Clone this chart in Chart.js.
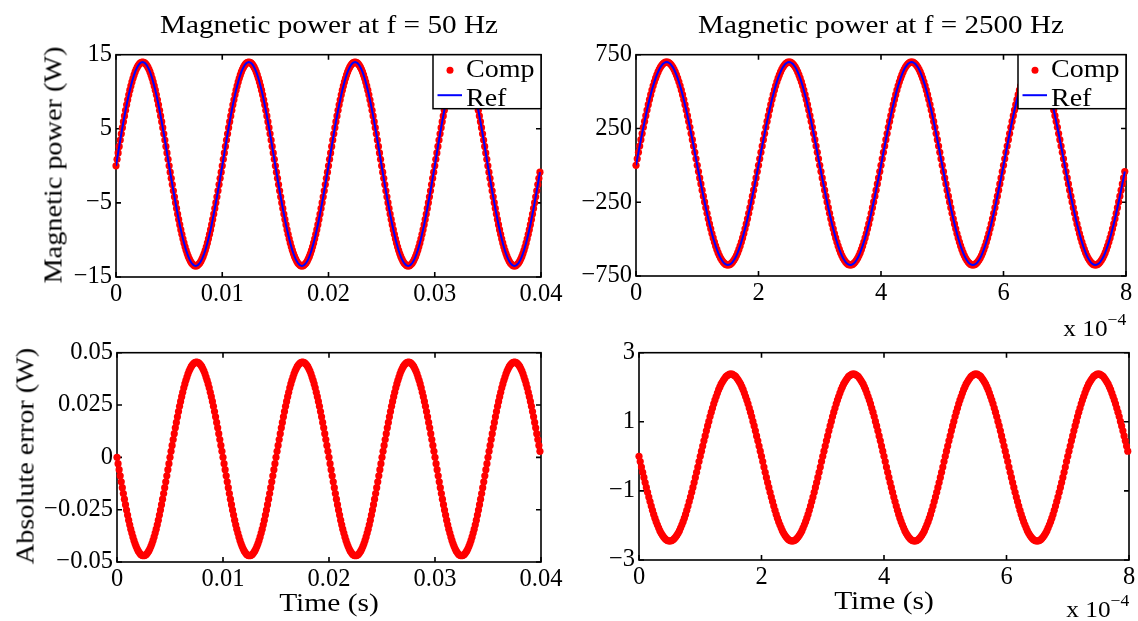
<!DOCTYPE html>
<html><head><meta charset="utf-8">
<script src="https://cdn.jsdelivr.net/npm/chart.js@4.4.1/dist/chart.umd.min.js"></script>
<style>
html,body{margin:0;padding:0;background:#fff;}
body{width:1138px;height:621px;position:relative;overflow:hidden;font-family:"Liberation Serif","Times New Roman",serif;color:#000;}
canvas{position:absolute;}
.t{position:absolute;white-space:nowrap;line-height:1;transform-origin:center center;}
.e{position:absolute;white-space:nowrap;line-height:1;transform-origin:right center;}
.sup{position:relative;font-size:16px;top:-11px;}
</style></head><body>
<canvas id="c1"></canvas><canvas id="c2"></canvas><canvas id="c3"></canvas><canvas id="c4"></canvas>
<div class="t" id="title1">Magnetic power at f = 50 Hz</div>
<div class="t" id="title2">Magnetic power at f = 2500 Hz</div>
<div class="t" id="ylab1">Magnetic power (W)</div>
<div class="t" id="ylab2">Absolute error (W)</div>
<div class="t" id="xlab1">Time (s)</div>
<div class="t" id="xlab2">Time (s)</div>
<div class="e" id="exp1">x 10<span class="sup">−4</span></div>
<div class="e" id="exp2">x 10<span class="sup">−4</span></div>
<script>
// ---------- data ----------
const timeLeft = [
0.0000,0.0001,0.0002,0.0003,0.0004,0.0005,0.0006,0.0007,0.0008,0.0009,0.0010,0.0011,0.0012,0.0013,0.0014,0.0015,0.0016,0.0017,0.0018,0.0019,0.0020,0.0021,0.0022,0.0023,0.0024,0.0025,0.0026,0.0027,0.0028,0.0029,0.0030,0.0031,0.0032,0.0033,0.0034,0.0035,0.0036,0.0037,0.0038,0.0039,0.0040,0.0041,0.0042,0.0043,0.0044,0.0045,0.0046,0.0047,0.0048,0.0049,
0.0050,0.0051,0.0052,0.0053,0.0054,0.0055,0.0056,0.0057,0.0058,0.0059,0.0060,0.0061,0.0062,0.0063,0.0064,0.0065,0.0066,0.0067,0.0068,0.0069,0.0070,0.0071,0.0072,0.0073,0.0074,0.0075,0.0076,0.0077,0.0078,0.0079,0.0080,0.0081,0.0082,0.0083,0.0084,0.0085,0.0086,0.0087,0.0088,0.0089,0.0090,0.0091,0.0092,0.0093,0.0094,0.0095,0.0096,0.0097,0.0098,0.0099,
0.0100,0.0101,0.0102,0.0103,0.0104,0.0105,0.0106,0.0107,0.0108,0.0109,0.0110,0.0111,0.0112,0.0113,0.0114,0.0115,0.0116,0.0117,0.0118,0.0119,0.0120,0.0121,0.0122,0.0123,0.0124,0.0125,0.0126,0.0127,0.0128,0.0129,0.0130,0.0131,0.0132,0.0133,0.0134,0.0135,0.0136,0.0137,0.0138,0.0139,0.0140,0.0141,0.0142,0.0143,0.0144,0.0145,0.0146,0.0147,0.0148,0.0149,
0.0150,0.0151,0.0152,0.0153,0.0154,0.0155,0.0156,0.0157,0.0158,0.0159,0.0160,0.0161,0.0162,0.0163,0.0164,0.0165,0.0166,0.0167,0.0168,0.0169,0.0170,0.0171,0.0172,0.0173,0.0174,0.0175,0.0176,0.0177,0.0178,0.0179,0.0180,0.0181,0.0182,0.0183,0.0184,0.0185,0.0186,0.0187,0.0188,0.0189,0.0190,0.0191,0.0192,0.0193,0.0194,0.0195,0.0196,0.0197,0.0198,0.0199,
0.0200,0.0201,0.0202,0.0203,0.0204,0.0205,0.0206,0.0207,0.0208,0.0209,0.0210,0.0211,0.0212,0.0213,0.0214,0.0215,0.0216,0.0217,0.0218,0.0219,0.0220,0.0221,0.0222,0.0223,0.0224,0.0225,0.0226,0.0227,0.0228,0.0229,0.0230,0.0231,0.0232,0.0233,0.0234,0.0235,0.0236,0.0237,0.0238,0.0239,0.0240,0.0241,0.0242,0.0243,0.0244,0.0245,0.0246,0.0247,0.0248,0.0249,
0.0250,0.0251,0.0252,0.0253,0.0254,0.0255,0.0256,0.0257,0.0258,0.0259,0.0260,0.0261,0.0262,0.0263,0.0264,0.0265,0.0266,0.0267,0.0268,0.0269,0.0270,0.0271,0.0272,0.0273,0.0274,0.0275,0.0276,0.0277,0.0278,0.0279,0.0280,0.0281,0.0282,0.0283,0.0284,0.0285,0.0286,0.0287,0.0288,0.0289,0.0290,0.0291,0.0292,0.0293,0.0294,0.0295,0.0296,0.0297,0.0298,0.0299,
0.0300,0.0301,0.0302,0.0303,0.0304,0.0305,0.0306,0.0307,0.0308,0.0309,0.0310,0.0311,0.0312,0.0313,0.0314,0.0315,0.0316,0.0317,0.0318,0.0319,0.0320,0.0321,0.0322,0.0323,0.0324,0.0325,0.0326,0.0327,0.0328,0.0329,0.0330,0.0331,0.0332,0.0333,0.0334,0.0335,0.0336,0.0337,0.0338,0.0339,0.0340,0.0341,0.0342,0.0343,0.0344,0.0345,0.0346,0.0347,0.0348,0.0349,
0.0350,0.0351,0.0352,0.0353,0.0354,0.0355,0.0356,0.0357,0.0358,0.0359,0.0360,0.0361,0.0362,0.0363,0.0364,0.0365,0.0366,0.0367,0.0368,0.0369,0.0370,0.0371,0.0372,0.0373,0.0374,0.0375,0.0376,0.0377,0.0378,0.0379,0.0380,0.0381,0.0382,0.0383,0.0384,0.0385,0.0386,0.0387,0.0388,0.0389,0.0390,0.0391,0.0392,0.0393,0.0394,0.0395,0.0396,0.0397,0.0398,0.0399
];
// time in units of 1e-4 s
const timeRight = [
0.00,0.02,0.04,0.06,0.08,0.10,0.12,0.14,0.16,0.18,0.20,0.22,0.24,0.26,0.28,0.30,0.32,0.34,0.36,0.38,0.40,0.42,0.44,0.46,0.48,0.50,0.52,0.54,0.56,0.58,0.60,0.62,0.64,0.66,0.68,0.70,0.72,0.74,0.76,0.78,0.80,0.82,0.84,0.86,0.88,0.90,0.92,0.94,0.96,0.98,
1.00,1.02,1.04,1.06,1.08,1.10,1.12,1.14,1.16,1.18,1.20,1.22,1.24,1.26,1.28,1.30,1.32,1.34,1.36,1.38,1.40,1.42,1.44,1.46,1.48,1.50,1.52,1.54,1.56,1.58,1.60,1.62,1.64,1.66,1.68,1.70,1.72,1.74,1.76,1.78,1.80,1.82,1.84,1.86,1.88,1.90,1.92,1.94,1.96,1.98,
2.00,2.02,2.04,2.06,2.08,2.10,2.12,2.14,2.16,2.18,2.20,2.22,2.24,2.26,2.28,2.30,2.32,2.34,2.36,2.38,2.40,2.42,2.44,2.46,2.48,2.50,2.52,2.54,2.56,2.58,2.60,2.62,2.64,2.66,2.68,2.70,2.72,2.74,2.76,2.78,2.80,2.82,2.84,2.86,2.88,2.90,2.92,2.94,2.96,2.98,
3.00,3.02,3.04,3.06,3.08,3.10,3.12,3.14,3.16,3.18,3.20,3.22,3.24,3.26,3.28,3.30,3.32,3.34,3.36,3.38,3.40,3.42,3.44,3.46,3.48,3.50,3.52,3.54,3.56,3.58,3.60,3.62,3.64,3.66,3.68,3.70,3.72,3.74,3.76,3.78,3.80,3.82,3.84,3.86,3.88,3.90,3.92,3.94,3.96,3.98,
4.00,4.02,4.04,4.06,4.08,4.10,4.12,4.14,4.16,4.18,4.20,4.22,4.24,4.26,4.28,4.30,4.32,4.34,4.36,4.38,4.40,4.42,4.44,4.46,4.48,4.50,4.52,4.54,4.56,4.58,4.60,4.62,4.64,4.66,4.68,4.70,4.72,4.74,4.76,4.78,4.80,4.82,4.84,4.86,4.88,4.90,4.92,4.94,4.96,4.98,
5.00,5.02,5.04,5.06,5.08,5.10,5.12,5.14,5.16,5.18,5.20,5.22,5.24,5.26,5.28,5.30,5.32,5.34,5.36,5.38,5.40,5.42,5.44,5.46,5.48,5.50,5.52,5.54,5.56,5.58,5.60,5.62,5.64,5.66,5.68,5.70,5.72,5.74,5.76,5.78,5.80,5.82,5.84,5.86,5.88,5.90,5.92,5.94,5.96,5.98,
6.00,6.02,6.04,6.06,6.08,6.10,6.12,6.14,6.16,6.18,6.20,6.22,6.24,6.26,6.28,6.30,6.32,6.34,6.36,6.38,6.40,6.42,6.44,6.46,6.48,6.50,6.52,6.54,6.56,6.58,6.60,6.62,6.64,6.66,6.68,6.70,6.72,6.74,6.76,6.78,6.80,6.82,6.84,6.86,6.88,6.90,6.92,6.94,6.96,6.98,
7.00,7.02,7.04,7.06,7.08,7.10,7.12,7.14,7.16,7.18,7.20,7.22,7.24,7.26,7.28,7.30,7.32,7.34,7.36,7.38,7.40,7.42,7.44,7.46,7.48,7.50,7.52,7.54,7.56,7.58,7.60,7.62,7.64,7.66,7.68,7.70,7.72,7.74,7.76,7.78,7.80,7.82,7.84,7.86,7.88,7.90,7.92,7.94,7.96,7.98
];

// magnetic power at 50 Hz (W)
const comp50 = [
0,0.88,1.75,2.62,3.48,4.33,5.15,5.96,6.74,7.50,8.23,8.92,9.58,10.21,10.79,11.33,11.82,12.27,12.67,13.02,13.31,13.56,13.75,13.89,13.97,14.00,13.97,13.89,13.75,13.56,13.31,13.02,12.67,12.27,11.82,11.33,10.79,10.21,9.58,8.92,8.23,7.50,6.74,5.96,5.15,4.33,3.48,2.62,1.75,0.88,
0,-0.85,-1.69,-2.53,-3.36,-4.17,-4.97,-5.75,-6.50,-7.23,-7.94,-8.61,-9.24,-9.84,-10.40,-10.92,-11.40,-11.83,-12.22,-12.55,-12.84,-13.08,-13.26,-13.39,-13.47,-13.50,-13.47,-13.39,-13.26,-13.08,-12.84,-12.55,-12.22,-11.83,-11.40,-10.92,-10.40,-9.84,-9.24,-8.61,-7.94,-7.23,-6.50,-5.75,-4.97,-4.17,-3.36,-2.53,-1.69,-0.85,
0,0.88,1.75,2.62,3.48,4.33,5.15,5.96,6.74,7.50,8.23,8.92,9.58,10.21,10.79,11.33,11.82,12.27,12.67,13.02,13.31,13.56,13.75,13.89,13.97,14.00,13.97,13.89,13.75,13.56,13.31,13.02,12.67,12.27,11.82,11.33,10.79,10.21,9.58,8.92,8.23,7.50,6.74,5.96,5.15,4.33,3.48,2.62,1.75,0.88,
0,-0.85,-1.69,-2.53,-3.36,-4.17,-4.97,-5.75,-6.50,-7.23,-7.94,-8.61,-9.24,-9.84,-10.40,-10.92,-11.40,-11.83,-12.22,-12.55,-12.84,-13.08,-13.26,-13.39,-13.47,-13.50,-13.47,-13.39,-13.26,-13.08,-12.84,-12.55,-12.22,-11.83,-11.40,-10.92,-10.40,-9.84,-9.24,-8.61,-7.94,-7.23,-6.50,-5.75,-4.97,-4.17,-3.36,-2.53,-1.69,-0.85,
0,0.88,1.75,2.62,3.48,4.33,5.15,5.96,6.74,7.50,8.23,8.92,9.58,10.21,10.79,11.33,11.82,12.27,12.67,13.02,13.31,13.56,13.75,13.89,13.97,14.00,13.97,13.89,13.75,13.56,13.31,13.02,12.67,12.27,11.82,11.33,10.79,10.21,9.58,8.92,8.23,7.50,6.74,5.96,5.15,4.33,3.48,2.62,1.75,0.88,
0,-0.85,-1.69,-2.53,-3.36,-4.17,-4.97,-5.75,-6.50,-7.23,-7.94,-8.61,-9.24,-9.84,-10.40,-10.92,-11.40,-11.83,-12.22,-12.55,-12.84,-13.08,-13.26,-13.39,-13.47,-13.50,-13.47,-13.39,-13.26,-13.08,-12.84,-12.55,-12.22,-11.83,-11.40,-10.92,-10.40,-9.84,-9.24,-8.61,-7.94,-7.23,-6.50,-5.75,-4.97,-4.17,-3.36,-2.53,-1.69,-0.85,
0,0.88,1.75,2.62,3.48,4.33,5.15,5.96,6.74,7.50,8.23,8.92,9.58,10.21,10.79,11.33,11.82,12.27,12.67,13.02,13.31,13.56,13.75,13.89,13.97,14.00,13.97,13.89,13.75,13.56,13.31,13.02,12.67,12.27,11.82,11.33,10.79,10.21,9.58,8.92,8.23,7.50,6.74,5.96,5.15,4.33,3.48,2.62,1.75,0.88,
0,-0.85,-1.69,-2.53,-3.36,-4.17,-4.97,-5.75,-6.50,-7.23,-7.94,-8.61,-9.24,-9.84,-10.40,-10.92,-11.40,-11.83,-12.22,-12.55,-12.84,-13.08,-13.26,-13.39,-13.47,-13.50,-13.47,-13.39,-13.26,-13.08,-12.84,-12.55,-12.22,-11.83,-11.40,-10.92,-10.40,-9.84,-9.24,-8.61,-7.94,-7.23,-6.50,-5.75,-4.97,-4.17,-3.36,-2.53,-1.69,-0.85
];
const ref50 = comp50; // indistinguishable at this scale

// magnetic power at 2500 Hz (W)
const comp2500 = [
0,44,88,131,174,216,258,298,337,375,411,446,479,510,539,566,591,613,633,651,666,678,688,694,699,700,699,694,688,678,666,651,633,613,591,566,539,510,479,446,411,375,337,298,258,216,174,131,88,44,
0,-42,-85,-126,-168,-209,-248,-287,-325,-362,-397,-430,-462,-492,-520,-546,-570,-592,-611,-628,-642,-654,-663,-670,-674,-675,-674,-670,-663,-654,-642,-628,-611,-592,-570,-546,-520,-492,-462,-430,-397,-362,-325,-287,-248,-209,-168,-126,-85,-42,
0,44,88,131,174,216,258,298,337,375,411,446,479,510,539,566,591,613,633,651,666,678,688,694,699,700,699,694,688,678,666,651,633,613,591,566,539,510,479,446,411,375,337,298,258,216,174,131,88,44,
0,-42,-85,-126,-168,-209,-248,-287,-325,-362,-397,-430,-462,-492,-520,-546,-570,-592,-611,-628,-642,-654,-663,-670,-674,-675,-674,-670,-663,-654,-642,-628,-611,-592,-570,-546,-520,-492,-462,-430,-397,-362,-325,-287,-248,-209,-168,-126,-85,-42,
0,44,88,131,174,216,258,298,337,375,411,446,479,510,539,566,591,613,633,651,666,678,688,694,699,700,699,694,688,678,666,651,633,613,591,566,539,510,479,446,411,375,337,298,258,216,174,131,88,44,
0,-42,-85,-126,-168,-209,-248,-287,-325,-362,-397,-430,-462,-492,-520,-546,-570,-592,-611,-628,-642,-654,-663,-670,-674,-675,-674,-670,-663,-654,-642,-628,-611,-592,-570,-546,-520,-492,-462,-430,-397,-362,-325,-287,-248,-209,-168,-126,-85,-42,
0,44,88,131,174,216,258,298,337,375,411,446,479,510,539,566,591,613,633,651,666,678,688,694,699,700,699,694,688,678,666,651,633,613,591,566,539,510,479,446,411,375,337,298,258,216,174,131,88,44,
0,-42,-85,-126,-168,-209,-248,-287,-325,-362,-397,-430,-462,-492,-520,-546,-570,-592,-611,-628,-642,-654,-663,-670,-674,-675,-674,-670,-663,-654,-642,-628,-611,-592,-570,-546,-520,-492,-462,-430,-397,-362,-325,-287,-248,-209,-168,-126,-85,-42
];
const ref2500 = comp2500;

// absolute error at 50 Hz (W)
const err50 = [
0,-0.0030,-0.0059,-0.0088,-0.0117,-0.0145,-0.0173,-0.0200,-0.0226,-0.0252,-0.0276,-0.0300,-0.0322,-0.0343,-0.0362,-0.0380,-0.0397,-0.0412,-0.0425,-0.0437,-0.0447,-0.0455,-0.0462,-0.0466,-0.0469,-0.0470,-0.0469,-0.0466,-0.0462,-0.0455,-0.0447,-0.0437,-0.0425,-0.0412,-0.0397,-0.0380,-0.0362,-0.0343,-0.0322,-0.0300,-0.0276,-0.0252,-0.0226,-0.0200,-0.0173,-0.0145,-0.0117,-0.0088,-0.0059,-0.0030,
0,0.0029,0.0057,0.0085,0.0113,0.0141,0.0167,0.0194,0.0219,0.0244,0.0267,0.0290,0.0311,0.0332,0.0351,0.0368,0.0384,0.0399,0.0412,0.0423,0.0433,0.0441,0.0447,0.0451,0.0454,0.0455,0.0454,0.0451,0.0447,0.0441,0.0433,0.0423,0.0412,0.0399,0.0384,0.0368,0.0351,0.0332,0.0311,0.0290,0.0267,0.0244,0.0219,0.0194,0.0167,0.0141,0.0113,0.0085,0.0057,0.0029,
0,-0.0030,-0.0059,-0.0088,-0.0117,-0.0145,-0.0173,-0.0200,-0.0226,-0.0252,-0.0276,-0.0300,-0.0322,-0.0343,-0.0362,-0.0380,-0.0397,-0.0412,-0.0425,-0.0437,-0.0447,-0.0455,-0.0462,-0.0466,-0.0469,-0.0470,-0.0469,-0.0466,-0.0462,-0.0455,-0.0447,-0.0437,-0.0425,-0.0412,-0.0397,-0.0380,-0.0362,-0.0343,-0.0322,-0.0300,-0.0276,-0.0252,-0.0226,-0.0200,-0.0173,-0.0145,-0.0117,-0.0088,-0.0059,-0.0030,
0,0.0029,0.0057,0.0085,0.0113,0.0141,0.0167,0.0194,0.0219,0.0244,0.0267,0.0290,0.0311,0.0332,0.0351,0.0368,0.0384,0.0399,0.0412,0.0423,0.0433,0.0441,0.0447,0.0451,0.0454,0.0455,0.0454,0.0451,0.0447,0.0441,0.0433,0.0423,0.0412,0.0399,0.0384,0.0368,0.0351,0.0332,0.0311,0.0290,0.0267,0.0244,0.0219,0.0194,0.0167,0.0141,0.0113,0.0085,0.0057,0.0029,
0,-0.0030,-0.0059,-0.0088,-0.0117,-0.0145,-0.0173,-0.0200,-0.0226,-0.0252,-0.0276,-0.0300,-0.0322,-0.0343,-0.0362,-0.0380,-0.0397,-0.0412,-0.0425,-0.0437,-0.0447,-0.0455,-0.0462,-0.0466,-0.0469,-0.0470,-0.0469,-0.0466,-0.0462,-0.0455,-0.0447,-0.0437,-0.0425,-0.0412,-0.0397,-0.0380,-0.0362,-0.0343,-0.0322,-0.0300,-0.0276,-0.0252,-0.0226,-0.0200,-0.0173,-0.0145,-0.0117,-0.0088,-0.0059,-0.0030,
0,0.0029,0.0057,0.0085,0.0113,0.0141,0.0167,0.0194,0.0219,0.0244,0.0267,0.0290,0.0311,0.0332,0.0351,0.0368,0.0384,0.0399,0.0412,0.0423,0.0433,0.0441,0.0447,0.0451,0.0454,0.0455,0.0454,0.0451,0.0447,0.0441,0.0433,0.0423,0.0412,0.0399,0.0384,0.0368,0.0351,0.0332,0.0311,0.0290,0.0267,0.0244,0.0219,0.0194,0.0167,0.0141,0.0113,0.0085,0.0057,0.0029,
0,-0.0030,-0.0059,-0.0088,-0.0117,-0.0145,-0.0173,-0.0200,-0.0226,-0.0252,-0.0276,-0.0300,-0.0322,-0.0343,-0.0362,-0.0380,-0.0397,-0.0412,-0.0425,-0.0437,-0.0447,-0.0455,-0.0462,-0.0466,-0.0469,-0.0470,-0.0469,-0.0466,-0.0462,-0.0455,-0.0447,-0.0437,-0.0425,-0.0412,-0.0397,-0.0380,-0.0362,-0.0343,-0.0322,-0.0300,-0.0276,-0.0252,-0.0226,-0.0200,-0.0173,-0.0145,-0.0117,-0.0088,-0.0059,-0.0030,
0,0.0029,0.0057,0.0085,0.0113,0.0141,0.0167,0.0194,0.0219,0.0244,0.0267,0.0290,0.0311,0.0332,0.0351,0.0368,0.0384,0.0399,0.0412,0.0423,0.0433,0.0441,0.0447,0.0451,0.0454,0.0455,0.0454,0.0451,0.0447,0.0441,0.0433,0.0423,0.0412,0.0399,0.0384,0.0368,0.0351,0.0332,0.0311,0.0290,0.0267,0.0244,0.0219,0.0194,0.0167,0.0141,0.0113,0.0085,0.0057,0.0029
];

// absolute error at 2500 Hz (W)
const err2500 = [
0,-0.15,-0.31,-0.46,-0.61,-0.76,-0.90,-1.04,-1.18,-1.31,-1.44,-1.56,-1.68,-1.79,-1.89,-1.98,-2.07,-2.15,-2.22,-2.28,-2.33,-2.37,-2.41,-2.43,-2.45,-2.45,-2.45,-2.43,-2.41,-2.37,-2.33,-2.28,-2.22,-2.15,-2.07,-1.98,-1.89,-1.79,-1.68,-1.56,-1.44,-1.31,-1.18,-1.04,-0.90,-0.76,-0.61,-0.46,-0.31,-0.15,
0,0.15,0.30,0.45,0.59,0.74,0.88,1.01,1.15,1.28,1.40,1.52,1.63,1.73,1.83,1.93,2.01,2.09,2.15,2.21,2.26,2.31,2.34,2.36,2.38,2.38,2.38,2.36,2.34,2.31,2.26,2.21,2.15,2.09,2.01,1.93,1.83,1.73,1.63,1.52,1.40,1.28,1.15,1.01,0.88,0.74,0.59,0.45,0.30,0.15,
0,-0.15,-0.31,-0.46,-0.61,-0.76,-0.90,-1.04,-1.18,-1.31,-1.44,-1.56,-1.68,-1.79,-1.89,-1.98,-2.07,-2.15,-2.22,-2.28,-2.33,-2.37,-2.41,-2.43,-2.45,-2.45,-2.45,-2.43,-2.41,-2.37,-2.33,-2.28,-2.22,-2.15,-2.07,-1.98,-1.89,-1.79,-1.68,-1.56,-1.44,-1.31,-1.18,-1.04,-0.90,-0.76,-0.61,-0.46,-0.31,-0.15,
0,0.15,0.30,0.45,0.59,0.74,0.88,1.01,1.15,1.28,1.40,1.52,1.63,1.73,1.83,1.93,2.01,2.09,2.15,2.21,2.26,2.31,2.34,2.36,2.38,2.38,2.38,2.36,2.34,2.31,2.26,2.21,2.15,2.09,2.01,1.93,1.83,1.73,1.63,1.52,1.40,1.28,1.15,1.01,0.88,0.74,0.59,0.45,0.30,0.15,
0,-0.15,-0.31,-0.46,-0.61,-0.76,-0.90,-1.04,-1.18,-1.31,-1.44,-1.56,-1.68,-1.79,-1.89,-1.98,-2.07,-2.15,-2.22,-2.28,-2.33,-2.37,-2.41,-2.43,-2.45,-2.45,-2.45,-2.43,-2.41,-2.37,-2.33,-2.28,-2.22,-2.15,-2.07,-1.98,-1.89,-1.79,-1.68,-1.56,-1.44,-1.31,-1.18,-1.04,-0.90,-0.76,-0.61,-0.46,-0.31,-0.15,
0,0.15,0.30,0.45,0.59,0.74,0.88,1.01,1.15,1.28,1.40,1.52,1.63,1.73,1.83,1.93,2.01,2.09,2.15,2.21,2.26,2.31,2.34,2.36,2.38,2.38,2.38,2.36,2.34,2.31,2.26,2.21,2.15,2.09,2.01,1.93,1.83,1.73,1.63,1.52,1.40,1.28,1.15,1.01,0.88,0.74,0.59,0.45,0.30,0.15,
0,-0.15,-0.31,-0.46,-0.61,-0.76,-0.90,-1.04,-1.18,-1.31,-1.44,-1.56,-1.68,-1.79,-1.89,-1.98,-2.07,-2.15,-2.22,-2.28,-2.33,-2.37,-2.41,-2.43,-2.45,-2.45,-2.45,-2.43,-2.41,-2.37,-2.33,-2.28,-2.22,-2.15,-2.07,-1.98,-1.89,-1.79,-1.68,-1.56,-1.44,-1.31,-1.18,-1.04,-0.90,-0.76,-0.61,-0.46,-0.31,-0.15,
0,0.15,0.30,0.45,0.59,0.74,0.88,1.01,1.15,1.28,1.40,1.52,1.63,1.73,1.83,1.93,2.01,2.09,2.15,2.21,2.26,2.31,2.34,2.36,2.38,2.38,2.38,2.36,2.34,2.31,2.26,2.21,2.15,2.09,2.01,1.93,1.83,1.73,1.63,1.52,1.40,1.28,1.15,1.01,0.88,0.74,0.59,0.45,0.30,0.15
];

// tick values
const xTicksLeft = [0, 0.01, 0.02, 0.03, 0.04];
const xTicksRight = [0, 2, 4, 6, 8];
const yTicksPower50 = [-15, -5, 5, 15];
const yTicksPower2500 = [-750, -250, 250, 750];
const yTicksError50 = [-0.05, -0.025, 0, 0.025, 0.05];
const yTicksError2500 = [-3, -1, 1, 3];

// ---------- drawing ----------
const FONT = '"Liberation Serif", "Times New Roman", serif';
Chart.defaults.font.family = FONT;
Chart.defaults.color = '#000';

function fmt(v){ return v < 0 ? '\u2212' + String(-v) : String(v); }

const matBox = {
  id: 'matBox',
  beforeDatasetsDraw(chart){
    const {ctx, chartArea: a, scales: {x, y}} = chart;
    ctx.save();
    ctx.strokeStyle = '#000'; ctx.lineWidth = 1.6;
    ctx.strokeRect(a.left, a.top, a.right - a.left, a.bottom - a.top);
    const L = 5;
    ctx.beginPath();
    x.ticks.forEach(t => { const p = x.getPixelForValue(t.value);
      ctx.moveTo(p, a.bottom); ctx.lineTo(p, a.bottom - L);
      ctx.moveTo(p, a.top); ctx.lineTo(p, a.top + L); });
    y.ticks.forEach(t => { const p = y.getPixelForValue(t.value);
      ctx.moveTo(a.left, p); ctx.lineTo(a.left + L, p);
      ctx.moveTo(a.right, p); ctx.lineTo(a.right - L, p); });
    ctx.stroke();
    ctx.restore();
  }
};

const matLegend = {
  id: 'matLegend',
  afterDatasetsDraw(chart, args, opts){
    if (!opts || !opts.show) return;
    const {ctx, chartArea: a} = chart;
    const w = 108, h = 54, x0 = a.right - w, y0 = a.top;
    const ds = chart.data.datasets;
    const comp = ds.find(d => d.label === 'Comp'), ref = ds.find(d => d.label === 'Ref');
    ctx.save();
    ctx.fillStyle = '#fff'; ctx.fillRect(x0, y0, w, h);
    ctx.strokeStyle = '#000'; ctx.lineWidth = 1.5; ctx.strokeRect(x0, y0, w, h);
    ctx.fillStyle = comp.pointBackgroundColor;
    ctx.beginPath(); ctx.arc(x0 + 17, y0 + 15.5, 3.5, 0, Math.PI * 2); ctx.fill();
    ctx.strokeStyle = ref.borderColor; ctx.lineWidth = 2;
    ctx.beginPath(); ctx.moveTo(x0 + 4.5, y0 + 40.5); ctx.lineTo(x0 + 29, y0 + 40.5); ctx.stroke();
    ctx.fillStyle = '#000'; ctx.font = '25px ' + FONT; ctx.textBaseline = 'alphabetic'; ctx.textAlign = 'left';
    [[comp.label, 22], [ref.label, 51.5]].forEach(([txt, dy]) => {
      ctx.save(); ctx.translate(x0 + 33, y0 + dy); ctx.scale(1.12, 1); ctx.fillText(txt, 0, 0); ctx.restore();
    });
    ctx.restore();
  }
};

const YW = 100, PT = 16, PR = 28, XH = 42;

function makePanel(id, rect, labels, datasets, xMin, xMax, xTicks, yMin, yMax, yTicks, legend){
  const cv = document.getElementById(id);
  cv.width = rect.w + YW + PR; cv.height = rect.h + PT + XH;
  cv.style.left = (rect.l - YW) + 'px'; cv.style.top = (rect.t - PT) + 'px';
  const tickFont = {family: FONT, size: 24.5};
  return new Chart(cv, {
    type: 'line',
    data: {labels, datasets},
    options: {
      responsive: false, animation: false, events: [],
      layout: {padding: {left: 0, top: PT, right: PR, bottom: 0}},
      plugins: {legend: {display: false}, tooltip: {enabled: false}, matLegend: {show: legend}},
      scales: {
        x: {type: 'linear', min: xMin, max: xMax,
            afterBuildTicks(s){ s.ticks = xTicks.map(v => ({value: v})); },
            afterFit(s){ s.height = XH; },
            ticks: {callback: v => fmt(v), font: tickFont, color: '#000', padding: 3, maxRotation: 0, autoSkip: false},
            grid: {display: false, drawTicks: false}, border: {display: false}},
        y: {type: 'linear', min: yMin, max: yMax,
            afterBuildTicks(s){ s.ticks = yTicks.map(v => ({value: v})); },
            afterFit(s){ s.width = YW; },
            ticks: {callback: v => fmt(v), font: tickFont, color: '#000', padding: 4, autoSkip: false},
            grid: {display: false, drawTicks: false}, border: {display: false}}
      }
    },
    plugins: [matBox, matLegend]
  });
}

function compSet(data){ return {label: 'Comp', data, showLine: false, pointRadius: 3.6, pointHoverRadius: 3.6,
  pointBackgroundColor: '#ff0000', pointBorderColor: '#ff0000', pointBorderWidth: 0, order: 1, clip: false}; }
function refSet(data){ return {label: 'Ref', data, borderColor: '#0000ff', backgroundColor: '#0000ff', borderWidth: 2,
  pointRadius: 0, fill: false, tension: 0, order: 0}; }

makePanel('c1', {l:116, t:52, w:425, h:225}, timeLeft, [refSet(ref50), compSet(comp50)], 0, 0.04, xTicksLeft, -15, 15, yTicksPower50, true);
makePanel('c2', {l:636, t:52, w:490, h:224}, timeRight, [refSet(ref2500), compSet(comp2500)], 0, 8, xTicksRight, -750, 750, yTicksPower2500, true);
makePanel('c3', {l:117, t:350, w:424, h:212}, timeLeft, [compSet(err50)], 0, 0.04, xTicksLeft, -0.05, 0.05, yTicksError50, false);
makePanel('c4', {l:639, t:350, w:490, h:210}, timeRight, [compSet(err2500)], 0, 8, xTicksRight, -3, 3, yTicksError2500, false);

// ---------- text ----------
const K = 0.3375; // baseline offset from box centre (em), line-height 1
function placeH(id, cx, baseline, size, sx){
  const el = document.getElementById(id);
  el.style.fontSize = size + 'px'; el.style.left = cx + 'px'; el.style.top = (baseline - K * size) + 'px';
  el.style.transform = `translate(-50%,-50%) scaleX(${sx})`;
}
function placeV(id, baselineX, cy, size, sx){
  const el = document.getElementById(id);
  el.style.fontSize = size + 'px'; el.style.left = (baselineX - K * size) + 'px'; el.style.top = cy + 'px';
  el.style.transform = `translate(-50%,-50%) rotate(-90deg) scaleX(${sx})`;
}
function placeR(id, right, baseline, size, sx){
  const el = document.getElementById(id);
  el.style.fontSize = size + 'px'; el.style.right = (1138 - right) + 'px'; el.style.top = (baseline - 0.8375 * size) + 'px';
  el.style.transform = `scaleX(${sx})`;
}
placeH('title1', 328.5, 32, 25, 1.17);
placeH('title2', 881, 32, 25, 1.165);
placeV('ylab1', 61, 164.5, 25, 1.13);
placeV('ylab2', 33, 456, 25, 1.13);
placeH('xlab1', 329, 610, 25, 1.18);
placeH('xlab2', 884, 608, 25, 1.18);
placeR('exp1', 1126, 336, 23, 1.1);
placeR('exp2', 1129, 617, 23, 1.1);
</script>
</body></html>
